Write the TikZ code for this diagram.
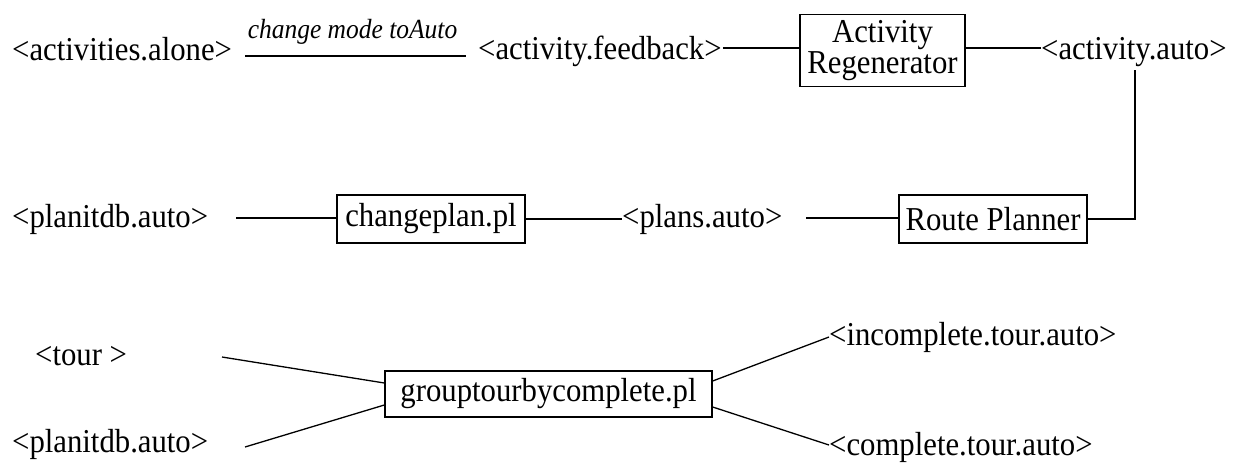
\documentclass[tikz,border=0pt]{standalone}
\usepackage{fontspec}
\setmainfont{Liberation Serif}[FakeStretch=0.92]
\usetikzlibrary{calc}
\begin{document}
\begin{tikzpicture}[x=1pt,y=-1pt,
  txt/.style={inner sep=0pt, anchor=base west, font=\fontsize{33.4}{30}\selectfont},
  lbl/.style={inner sep=0pt, font=\fontsize{27.7}{28}\selectfont\itshape},
  box/.style={draw, line width=1.3pt, inner sep=0pt, align=center, font=\fontsize{33.4}{31.5}\selectfont},
  conn/.style={line width=1.3pt}]
\useasboundingbox (0,0) rectangle (1239,464);

% first row: activity feedback loop
\node[txt] (alone) at (12,60) {<activities.alone>};
\node[txt] (fb) at (478,59) {<activity.feedback>};
\node[box, minimum width=165pt, minimum height=72pt] (ar) at (882.5,50.5) {Activity\\Regenerator};
\node[txt] (aa) at (1041,59) {<activity.auto>};

\coordinate (cm1) at (245,56);
\coordinate (cm2) at (466,56);
\draw[conn] (cm1) -- node[lbl, midway, anchor=base, yshift=18pt, xshift=-3pt] {change mode toAuto} (cm2);
\draw[conn] ($(fb.base east)+(1,-11)$) -- ($(ar.west)+(0,-2.5)$);
\draw[conn] ($(ar.east)+(0,-2.5)$) -- ($(aa.base west)+(0,-11)$);

% second row: planning
\node[txt] (pdb1) at (12,227) {<planitdb.auto>};
\node[box, minimum width=188pt, minimum height=48pt] (cp) at (431,219) {changeplan.pl};
\node[txt] (pa) at (622,227) {<plans.auto>};
\node[box, minimum width=188pt, minimum height=48pt] (rp) at (993,219) {Route Planner};

\coordinate (l1) at (236,218);
\coordinate (l2) at (806,218);
\coordinate (vt) at (1135,70);
\draw[conn] (l1) -- (l1 -| cp.west);
\draw[conn] (cp.east) -- (cp.east -| pa.west);
\draw[conn] (l2) -- (l2 -| rp.west);
\draw[conn] (vt) |- (rp.east);

% third row: grouping tours
\node[txt] (tour) at (35,365) {<tour >};
\node[txt] (pdb2) at (12,452) {<planitdb.auto>};
\node[box, minimum width=327pt, minimum height=46pt] (gt) at (548.5,394) {grouptourbycomplete.pl};
\node[txt] (inc) at (829,345) {<incomplete.tour.auto>};
\node[txt] (comp) at (829,455) {<complete.tour.auto>};

\coordinate (t1) at (222,357);
\coordinate (t2) at (245,447);
\draw[conn] (t1) -- ($(gt.west)+(0,-11)$);
\draw[conn] (t2) -- ($(gt.west)+(0,11)$);
\draw[conn] ($(gt.east)+(0,-13)$) -- ($(inc.base west)+(0,-8)$);
\draw[conn] ($(gt.east)+(0,13)$) -- ($(comp.base west)+(0,-10)$);
\end{tikzpicture}
\end{document}
